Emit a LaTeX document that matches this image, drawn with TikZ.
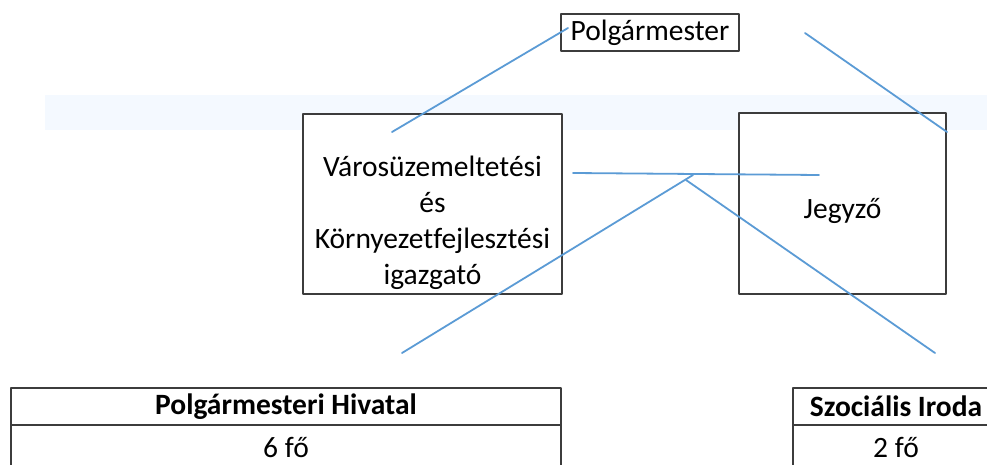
\documentclass[tikz,border=0pt]{standalone}
\usepackage{fontspec}
\setmainfont{Carlito}[Ligatures=NoCommon]
\definecolor{kek}{RGB}{91,155,213}
\definecolor{halvany}{RGB}{244,249,255}
\definecolor{keret}{RGB}{60,60,60}
\begin{document}
\begin{tikzpicture}[x=1pt,y=-1pt,line join=round,line cap=round,
 font=\fontsize{29.5}{36}\selectfont,
 doboz/.style={draw=keret,line width=1.1pt,fill=white,inner sep=0pt,align=center},
 szoveg/.style={inner sep=0pt,align=center},
 vonal/.style={draw=kek,line width=1.8pt}]
 \useasboundingbox (0,0) rectangle (987,465);
 \clip (0,0) rectangle (987,465);
 \fill[halvany] (45,95) rectangle (987,130);
 % dobozok
 \node[doboz,minimum width=178pt,minimum height=37pt] (polg) at (650,32.5) {Polgármester};
 \node[doboz,minimum width=259pt,minimum height=180pt] (igazg) at (432.5,204) {};
 \node[szoveg] (igazgszoveg) at (432.5,223) {Városüzemeltetési\\ és\\ Környezetfejlesztési\\ igazgató};
 \node[doboz,minimum width=207pt,minimum height=181pt] (jegyzo) at (842.5,203.5) {};
 \node[szoveg] (jegyzoszoveg) at (842.5,211) {Jegyző};
 % tablazatok
 \node[doboz,minimum width=550pt,minimum height=37pt,font=\fontsize{29.5}{36}\selectfont\bfseries] (hiv) at (286,406.5) {Polgármesteri Hivatal};
 \node[doboz,minimum width=550pt,minimum height=45pt] (hivfo) at (286,447.5) {6 fő};
 \node[doboz,minimum width=206pt,minimum height=37pt,font=\fontsize{29.5}{36}\selectfont\bfseries] (szoc) at (896,406.5) {Szociális Iroda};
 \node[doboz,minimum width=206pt,minimum height=45pt] (szocfo) at (896,447.5) {2 fő};
 % kek vonalak
 \coordinate (a1) at (392,132); \coordinate (a2) at (568,28);
 \coordinate (b1) at (805,33); \coordinate (b2) at (947,132);
 \coordinate (h1) at (573,173); \coordinate (h2) at (819,175);
 \coordinate (l1) at (402,353); \coordinate (l2) at (693,175);
 \coordinate (r1) at (686,180); \coordinate (r2) at (935,353);
 \draw[vonal] (a1)--(a2);
 \draw[vonal] (b1)--(b2);
 \draw[vonal] (h1)--(h2);
 \draw[vonal] (l1)--(l2);
 \draw[vonal] (r1)--(r2);
\end{tikzpicture}
\end{document}
